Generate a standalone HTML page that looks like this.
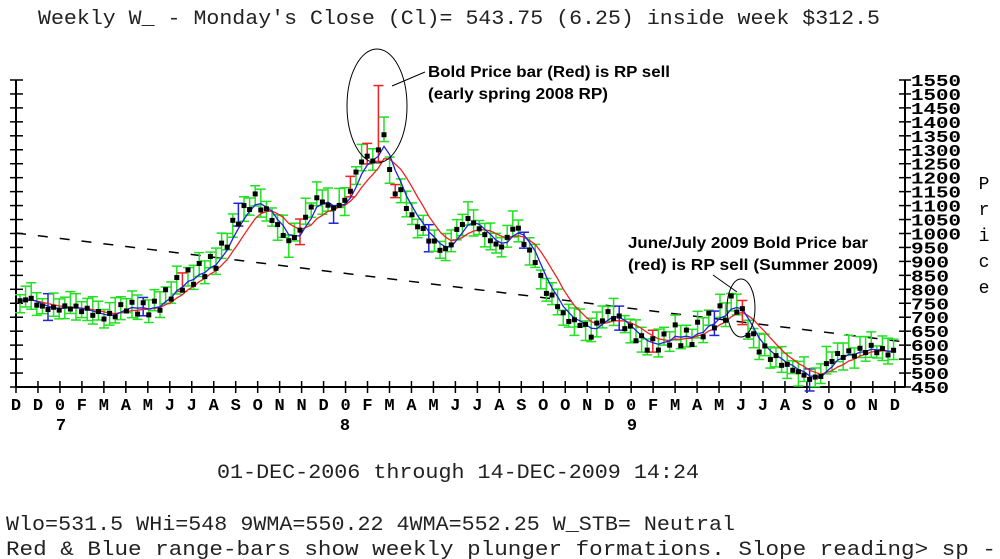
<!DOCTYPE html>
<html><head><meta charset="utf-8"><style>
html,body{margin:0;padding:0;background:#fff;width:1000px;height:559px;overflow:hidden}
svg{display:block}
.m{font-family:"Liberation Mono",monospace}
.a{font-family:"Liberation Sans",Arial,sans-serif;font-weight:bold}
</style></head><body>
<svg id="s" width="1000" height="559" xmlns="http://www.w3.org/2000/svg">
<text class="m" x="38" y="24" font-size="20" fill="#222" textLength="842" lengthAdjust="spacingAndGlyphs">Weekly W_ - Monday's Close (Cl)= 543.75 (6.25) inside week $312.5</text>
<text class="m" x="217" y="478" font-size="20" fill="#222" textLength="482" lengthAdjust="spacingAndGlyphs">01-DEC-2006 through 14-DEC-2009 14:24</text>
<text class="m" x="6" y="530" font-size="20" fill="#222" textLength="729" lengthAdjust="spacingAndGlyphs">Wlo=531.5 WHi=548 9WMA=550.22 4WMA=552.25 W_STB= Neutral</text>
<text class="m" x="6" y="555" font-size="20" fill="#222" textLength="990" lengthAdjust="spacingAndGlyphs">Red &amp; Blue range-bars show weekly plunger formations.  Slope reading&gt; sp -</text>
<g id="g"></g>
<text class="a" x="428" y="77" font-size="16" textLength="242" lengthAdjust="spacingAndGlyphs">Bold Price bar (Red) is RP sell</text>
<text class="a" x="428" y="99" font-size="16" textLength="180" lengthAdjust="spacingAndGlyphs">(early spring 2008 RP)</text>
<text class="a" x="628" y="248" font-size="16" textLength="240" lengthAdjust="spacingAndGlyphs">June/July 2009 Bold Price bar</text>
<text class="a" x="628" y="270" font-size="16" textLength="250" lengthAdjust="spacingAndGlyphs">(red) is RP sell (Summer 2009)</text>
<line x1="392" y1="86" x2="425" y2="72" stroke="#000"/>
<line x1="713" y1="275" x2="737" y2="292" stroke="#000"/>
<ellipse cx="377" cy="106" rx="30" ry="57" fill="none" stroke="#000"/>
<ellipse cx="741" cy="308" rx="14" ry="29" fill="none" stroke="#000"/>
</svg>
<script>
const NS="http://www.w3.org/2000/svg",g=document.getElementById('g');
function el(t,a,txt){const e=document.createElementNS(NS,t);for(const k in a)e.setAttribute(k,a[k]);if(txt!=null)e.textContent=txt;g.appendChild(e);return e;}
const Y=p=>387-(p-450)*0.2791;
el('line',{x1:16,y1:387,x2:905,y2:387,stroke:'#000','stroke-width':2});
el('line',{x1:16,y1:80,x2:16,y2:387,stroke:'#000','stroke-width':2});
el('line',{x1:905,y1:80,x2:905,y2:387,stroke:'#000','stroke-width':2});
for(let p=450;p<=1550;p+=50){const y=Y(p);
 el('line',{x1:10,y1:y,x2:23,y2:y,stroke:'#000','stroke-width':1.5});
 el('line',{x1:899,y1:y,x2:911,y2:y,stroke:'#000','stroke-width':1.5});
 el('text',{x:911,y:y+6,'font-size':17,'font-weight':'bold','class':'m',textLength:p>=1000?50:38,lengthAdjust:'spacingAndGlyphs'},String(p));}
const lab="D D 0 F M A M J J A S O N N D 0 F M A M J J A S O O N D 0 F M A M J J A S O O N D".split(' ');
lab.forEach((l,i)=>{const x=16+i*21.97;
 el('line',{x1:x,y1:381,x2:x,y2:393,stroke:'#000','stroke-width':1.5});
 el('text',{x:x,y:410,'font-size':17,'font-weight':'bold','class':'m','text-anchor':'middle'},l);});
[[61,'7'],[345,'8'],[632,'9']].forEach(([x,t])=>el('text',{x:x,y:430,'font-size':17,'font-weight':'bold','class':'m','text-anchor':'middle'},t));
"Price".split('').forEach((c,i)=>el('text',{x:984,y:189+i*26,'font-size':18,'class':'m','text-anchor':'middle'},c));
el('line',{x1:16,y1:233,x2:905,y2:342,stroke:'#000','stroke-width':1.5,'stroke-dasharray':'10,12'});
const K=[[20,301],[30,298],[40,307],[55,309],[70,307],[85,310],[100,315],[110,317],[115,313],[125,306],[140,309],[155,308],[165,298],[175,287],[185,280],[195,275],[205,268],[215,262],[225,245],[235,222],[245,210],[255,198],[262,208],[270,215],[280,230],[290,243],[300,230],[310,208],[318,197],[330,208],[340,206],[350,193],[358,165],[368,156],[375,162],[385,130],[392,193],[400,190],[410,215],[420,227],[430,240],[440,248],[448,252],[453,238],[460,225],[470,218],[480,230],[490,240],[500,248],[510,235],[515,222],[525,245],[535,260],[545,290],[555,300],[565,318],[575,322],[585,325],[590,337],[600,320],[610,313],[620,320],[630,330],[640,340],[650,346],[665,341],[675,333],[685,340],[700,330],[712,320],[725,312],[735,300],[745,322],[755,343],[770,355],[785,365],[800,373],[812,380],[820,376],[830,360],[840,355],[855,353],[870,348],[885,352],[895,353]];
function interp(x){for(let i=0;i<K.length-1;i++){if(x<=K[i+1][0]){const t=(x-K[i][0])/(K[i+1][0]-K[i][0]);return K[i][1]+t*(K[i+1][1]-K[i][1]);}}return K[K.length-1][1];}
const pts=[];for(let x=20;x<=895;x+=5.6){const n=Math.sin(x*1.7)*3+Math.sin(x*0.53)*2;pts.push([x,Math.max(60,interp(x)+n)]);}
const reds={352:1,365:1,380:1,300:1,240:1,183:1,90:1,740:1,651:1,395:1};
pts.forEach(([x,c],i)=>{const h=6+Math.abs(Math.sin(i*2.3))*10,l=5+Math.abs(Math.cos(i*1.9))*7;
 let col='#22e022';const xi=Math.round(x);
 for(const r in reds)if(Math.abs(xi-r)<3)col='#ee2222';
 if(i%17==5)col='#2222dd';
 let top=c-h,bot=c+l;
 if(col=='#ee2222'&&Math.abs(xi-380)<3)top=Y(1530);
 if(col=='#ee2222'&&Math.abs(xi-740)<4)top=Y(760);
 el('line',{x1:x,y1:top,x2:x,y2:bot,stroke:col,'stroke-width':1.5});
 el('line',{x1:x-5,y1:top,x2:x+5,y2:top,stroke:col,'stroke-width':1.5});
 el('line',{x1:x-5,y1:bot,x2:x+5,y2:bot,stroke:col,'stroke-width':1.5});
});
function ma(n){const out=[];for(let i=0;i<pts.length;i++){let s=0,w=0;for(let j=0;j<n;j++){const k=Math.max(0,i-j);s+=pts[k][1]*(n-j);w+=n-j;}out.push([pts[i][0],s/w]);}return out;}
function pl(a,col){el('polyline',{points:a.map(p=>p[0].toFixed(1)+','+p[1].toFixed(1)).join(' '),fill:'none',stroke:col,'stroke-width':1.3});}
pl(ma(9),'#ee2222');pl(ma(4),'#2222dd');
pts.forEach(([x,c],i)=>{const d=Math.sin(i*3.1)*5;el('rect',{x:x-2.5,y:c+d-2.5,width:5,height:5,fill:'#000'});});
</script>
</body></html>
